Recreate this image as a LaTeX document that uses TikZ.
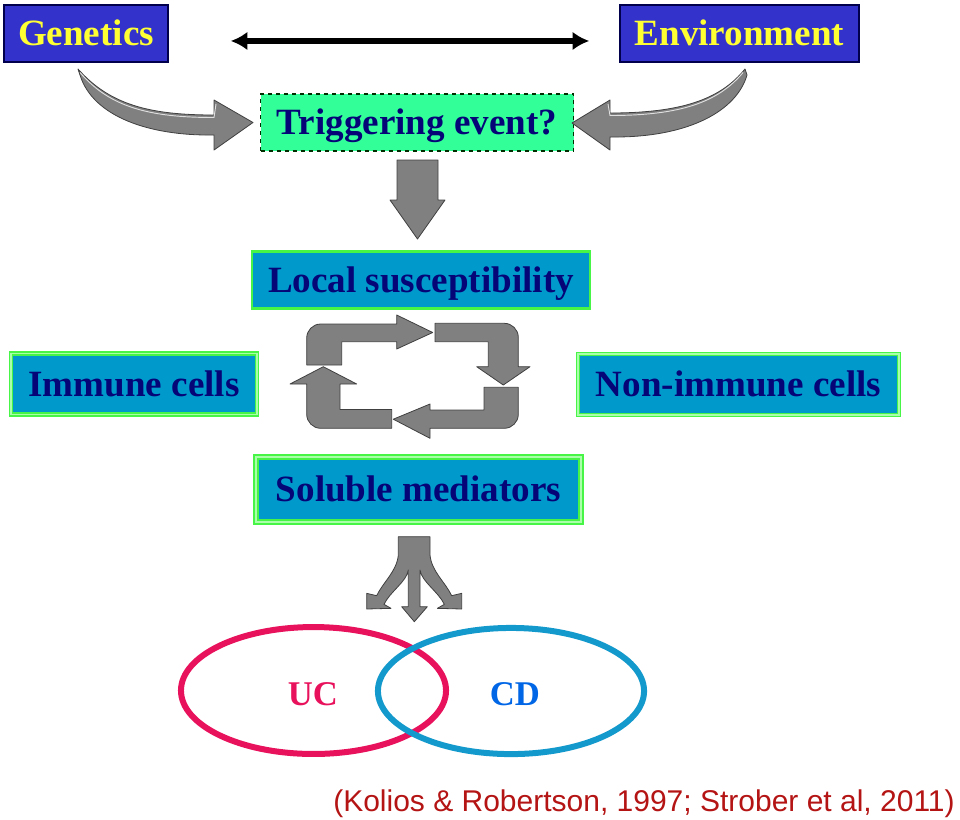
\documentclass[tikz,border=0pt]{standalone}
\usepackage{fontspec}
\setmainfont{Liberation Serif}
\newfontfamily\citefont{Liberation Sans}
\usetikzlibrary{arrows.meta}
\definecolor{boxblue}{RGB}{51,51,204}
\definecolor{yel}{RGB}{255,255,51}
\definecolor{mint}{RGB}{51,255,153}
\definecolor{cer}{RGB}{0,153,204}
\definecolor{gline}{RGB}{70,245,70}
\definecolor{glight}{RGB}{170,255,170}
\definecolor{navytxt}{RGB}{5,5,120}
\definecolor{arrgray}{RGB}{128,128,128}
\definecolor{ucred}{RGB}{232,17,91}
\definecolor{cdring}{RGB}{20,153,204}
\definecolor{cdtext}{RGB}{0,102,230}
\definecolor{citered}{RGB}{180,20,20}
\begin{document}
\begin{tikzpicture}[x=0.75pt,y=-0.75pt,
  txt/.style={font=\fontsize{27.8pt}{30pt}\selectfont\bfseries, inner sep=0pt, text height=18pt, text depth=0pt},
  topbox/.style={txt, fill=boxblue, draw=black!50!blue!60!black, line width=1.1pt, text=yel, minimum height=42.75pt},
  trigbox/.style={txt, fill=mint, draw=black!55!green!40!black, dashed, line width=0.9pt, text=navytxt, minimum height=42.75pt},
  cbox/.style={txt, fill=cer, draw=gline, line width=1.6pt, text=navytxt},
  dbox/.style={txt, fill=cer, draw=gline, double=glight, double distance=1.4pt, line width=0.9pt, text=navytxt},
  block/.style={fill=arrgray, draw=black!75, line width=0.6pt, line join=round},
  stripe/.style={draw=white!75!gray, line width=0.7pt},
  dblarrow/.style={line width=3.8pt, {Latex[length=12.5pt,width=14pt]}-{Latex[length=12.5pt,width=14pt]}},
  ring/.style={line width=4.5pt},
  vennlbl/.style={font=\fontsize{26pt}{28pt}\selectfont\bfseries, inner sep=0pt, anchor=base},
]
\useasboundingbox (0,0) rectangle (960,819);

% boxes
\node[topbox, minimum width=123pt] (gen) at (86,33.5) {Genetics};
\node[topbox, minimum width=179.25pt] (env) at (739.5,33.5) {Environment};
\node[trigbox, minimum width=234.75pt] (trig) at (417,122.5) {Triggering event?};
\node[cbox, minimum width=253.5pt, minimum height=42.75pt] (local) at (421,280) {Local susceptibility};
\node[dbox, minimum width=184.5pt, minimum height=45.75pt] (immune) at (134,384) {Immune cells};
\node[dbox, minimum width=240.75pt, minimum height=45.75pt] (nonimm) at (738.5,384.5) {Non-immune cells};
\node[dbox, minimum width=243.75pt, minimum height=48.75pt, line width=1pt, double distance=2.2pt] (sol) at (418.5,489.5) {Soluble mediators};

% black double arrow between Genetics and Environment
\draw[dblarrow] ([xshift=46.5pt,yshift=-5.6pt]gen.east) -- ([xshift=-22.5pt,yshift=-5.6pt]env.west);

% curved block arrow from Genetics
\draw[block] (78,69) .. controls (110,105) and (150,115) .. (214,115) -- (214,100) -- (253,122.5)
  -- (214,150) -- (214,135) .. controls (150,136) and (93,117) .. (80,75) -- cycle;
\draw[stripe] (80,72.5) .. controls (110,107.5) and (150,117.5) .. (214,117.5) -- (216,104);
% curved block arrow from Environment
\draw[block] (745,69) .. controls (720,100) and (680,113) .. (610,113) -- (610,100) -- (572,123)
  -- (610,150) -- (610,137) .. controls (690,138) and (737,110) .. (747,75) -- cycle;
\draw[stripe] (743,72.5) .. controls (718,102.5) and (680,115.5) .. (610,115.5) -- (608,104);

% down block arrow
\draw[block] (397,160) -- (438,160) -- (438,200) -- (445,200) -- (417.5,239) -- (390,200) -- (397,200) -- cycle;

% cycle of four bent arrows
\draw[block] (306.7,365) -- (306.7,338) .. controls (306.7,330.3) and (313,324) .. (320.7,324)
  -- (396.7,324) -- (396.7,315) -- (432.7,332.5) -- (396.7,349) -- (396.7,341.7) -- (341.7,341.7) -- (341.7,365) -- cycle;
\draw[block] (435,323.3) -- (504.3,323.3) .. controls (512,323.3) and (518.3,329.6) .. (518.3,337.3)
  -- (518.3,366.7) -- (530,366.7) -- (503.3,385) -- (476.7,366.7) -- (488.3,366.7) -- (488.3,341.7) -- (435,341.7) -- cycle;
\draw[block] (484,387.3) -- (518.3,387.3) -- (518.3,414.3) .. controls (518.3,422) and (512,428.3) .. (504.3,428.3)
  -- (430,428.3) -- (430,438.3) -- (393.3,419.2) -- (430,404) -- (430,410) -- (484,410) -- cycle;
\draw[block] (391.7,409.5) -- (391.7,428.3) -- (320.7,428.3) .. controls (313,428.3) and (306.7,422) .. (306.7,414.3)
  -- (306.7,384) -- (290,384) -- (323.3,366.7) -- (356.7,384) -- (340,384) -- (340,409.5) -- cycle;

% three-way arrow
\begin{scope}[shift={(350,525)}, scale=1/3]
\draw[block] (145,35) -- (240,35) -- (240,90) .. controls (245,140) and (285,170) .. (305,212)
  -- (335,205) -- (335,252) -- (262,250) -- (283,238) .. controls (265,200) and (215,170) .. (210,135)
  -- (210,245) -- (232,245) -- (193,290) -- (155,245) -- (175,245) -- (175,135)
  .. controls (170,170) and (120,200) .. (102,238) -- (123,250) -- (50,252) -- (50,205) -- (80,212)
  .. controls (100,170) and (140,140) .. (145,90) -- cycle;
\end{scope}

% Venn ellipses
\draw[ring, draw=ucred] (313.5,690.5) ellipse [x radius=99.4pt, y radius=47.6pt];
\draw[ring, draw=cdring] (511,691) ellipse [x radius=99.8pt, y radius=47.3pt];
\node[vennlbl, text=ucred] (uc) at (313,705) {UC};
\node[vennlbl, text=cdtext] (cd) at (515,705) {CD};

% citation
\node[font=\citefont\fontsize{22.5pt}{24pt}\selectfont, text=citered, inner sep=0pt, anchor=base east] (cite) at (955,811)
  {(Kolios \& Robertson, 1997; Strober et al, 2011)};
\end{tikzpicture}
\end{document}
